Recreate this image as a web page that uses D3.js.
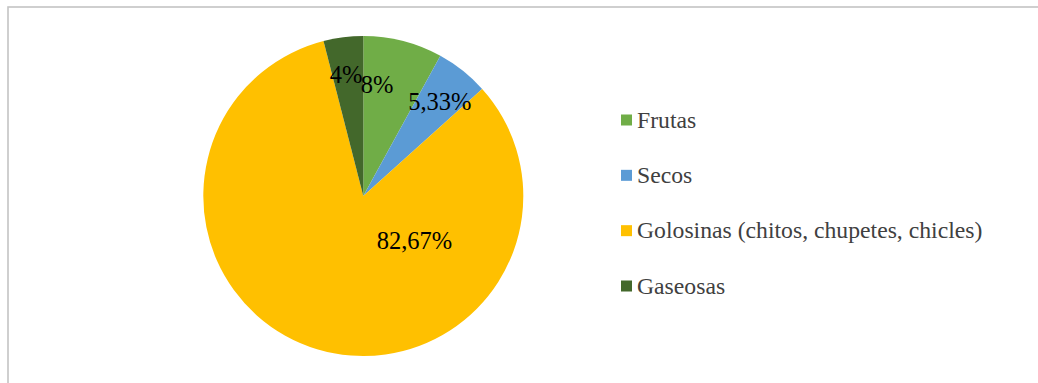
<!DOCTYPE html>
<html>
<head>
<meta charset="utf-8">
<script src="https://cdn.jsdelivr.net/npm/d3@7/dist/d3.min.js"></script>
<style>
  html, body { margin: 0; padding: 0; background: #ffffff; }
  svg { display: block; }
</style>
</head>
<body>
<svg id="chart" width="1038" height="383"></svg>
<script>
// Snack categories and their share (%)
const categories = ["Frutas", "Secos", "Golosinas (chitos, chupetes, chicles)", "Gaseosas"];
const values = [8, 5.33, 82.67, 4];
const valueLabels = ["8%", "5,33%", "82,67%", "4%"];
const colors = ["#70AD47", "#5B9BD5", "#FFC000", "#43682B"];

// Label placement: radial fraction of the radius plus a small nudge
const labelLayout = [
  { r: 0.70, dx: -14, dy: -2.5 },
  { r: 0.76, dx: 1, dy: 1 },
  { r: 0.42, dx: 70.6, dy: -19.6 },
  { r: 0.76, dx: -2, dy: 0 }
];

const W = 1038, H = 383;
const svg = d3.select("#chart");

// Chart area border (runs off the right and bottom edges)
svg.append("rect")
  .attr("x", 8).attr("y", 7)
  .attr("width", W + 20).attr("height", H + 20)
  .attr("fill", "#ffffff")
  .attr("stroke", "#c4c4c4")
  .attr("stroke-width", 1.6);

const cx = 363.3, cy = 196, R = 160;

const pie = d3.pie().sort(null).value(d => d)
  .startAngle(0).endAngle(2 * Math.PI);
const arcs = pie(values);
const arc = d3.arc().innerRadius(0).outerRadius(R);

const g = svg.append("g").attr("transform", `translate(${cx},${cy})`);

g.selectAll("path.slice")
  .data(arcs)
  .enter().append("path")
  .attr("class", "slice")
  .attr("d", arc)
  .attr("fill", (d, i) => colors[i]);

g.selectAll("text.val")
  .data(arcs)
  .enter().append("text")
  .attr("class", "val")
  .each(function (d, i) {
    const L = labelLayout[i];
    const c = d3.arc().innerRadius(R * L.r).outerRadius(R * L.r).centroid(d);
    d3.select(this)
      .attr("x", c[0] + L.dx)
      .attr("y", c[1] + L.dy);
  })
  .attr("dy", "0.33em")
  .attr("text-anchor", "middle")
  .attr("font-family", "'Liberation Serif', 'Times New Roman', serif")
  .attr("font-size", 24.5)
  .attr("fill", "#000000")
  .text((d, i) => valueLabels[i]);

// Legend
const legendY = d3.scalePoint()
  .domain(categories)
  .range([120, 286]);

const legend = svg.append("g");
const items = legend.selectAll("g.item")
  .data(categories)
  .enter().append("g")
  .attr("class", "item")
  .attr("transform", d => `translate(621,${legendY(d)})`);

items.append("rect")
  .attr("x", 0).attr("y", -5.5)
  .attr("width", 11).attr("height", 11)
  .attr("fill", (d, i) => colors[i]);

items.append("text")
  .attr("x", 16).attr("y", 0)
  .attr("dy", "0.32em")
  .attr("font-family", "'Liberation Serif', 'Times New Roman', serif")
  .attr("font-size", 23.7)
  .attr("fill", "#404040")
  .text(d => d);
</script>
</body>
</html>
